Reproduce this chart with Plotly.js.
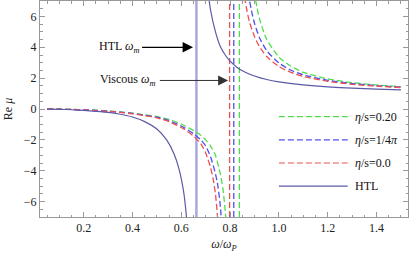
<!DOCTYPE html>
<html>
<head>
<meta charset="utf-8">
<script src="https://cdn.plot.ly/plotly-3.0.1.min.js"></script>
<style>html,body{margin:0;padding:0;background:#fff;}#plot{width:409px;height:253px;}</style>
</head>
<body>
<div id="plot"></div>
<script>
// HTL curve (two branches separated by null)
const htlX = [0.05,0.1,0.15,0.2,0.25,0.3,0.35,0.4,0.45,0.5,0.54,0.57,0.59,0.61,0.62,0.63,null,0.70,0.71,0.72,0.74,0.76,0.78,0.80,0.83,0.86,0.90,0.95,1.0,1.1,1.2,1.3,1.4,1.5];
const htlY = [-0.01,-0.02,-0.05,-0.09,-0.15,-0.22,-0.34,-0.52,-0.82,-1.3,-2.0,-2.9,-3.85,-5.4,-6.8,-9.0,null,9.4,7.6,6.4,5.0,4.05,3.5,3.1,2.68,2.4,2.14,1.91,1.76,1.56,1.43,1.35,1.29,1.24];
// eta/s = 0.0 (red)
const redX = [0.05,0.1,0.15,0.2,0.25,0.3,0.35,0.4,0.45,0.5,0.55,0.6,0.65,0.68,0.70,0.72,0.73,0.74,0.75,0.76,null,0.85,0.86,0.87,0.88,0.9,0.92,0.95,1.0,1.05,1.1,1.2,1.3,1.4,1.5];
const redY = [0,-0.01,-0.03,-0.06,-0.1,-0.15,-0.22,-0.31,-0.43,-0.57,-0.82,-1.2,-1.75,-2.25,-2.85,-3.8,-4.5,-5.5,-7.3,-10,null,8.4,7.2,6.3,5.6,4.7,4.05,3.4,2.75,2.37,2.11,1.79,1.6,1.48,1.39];
// eta/s = 1/4pi (blue)
const blueX = [0.05,0.1,0.15,0.2,0.25,0.3,0.35,0.4,0.45,0.5,0.55,0.6,0.65,0.68,0.70,0.72,0.74,0.75,0.76,0.77,null,0.87,0.88,0.89,0.9,0.92,0.95,1.0,1.05,1.1,1.2,1.3,1.4,1.5];
const blueY = [0,-0.01,-0.03,-0.05,-0.09,-0.14,-0.21,-0.29,-0.41,-0.53,-0.76,-1.1,-1.6,-2.0,-2.4,-3.1,-4.2,-5.0,-6.3,-8.6,null,8.1,7.0,6.2,5.55,4.64,3.78,2.98,2.51,2.22,1.86,1.65,1.51,1.42];
// eta/s = 0.20 (green)
const greenX = [0.05,0.1,0.15,0.2,0.25,0.3,0.35,0.4,0.45,0.5,0.55,0.6,0.65,0.68,0.70,0.72,0.74,0.76,0.77,0.78,0.79,null,0.89,0.9,0.91,0.92,0.95,1.0,1.05,1.1,1.2,1.3,1.4,1.5];
const greenY = [0,-0.01,-0.02,-0.05,-0.08,-0.13,-0.19,-0.27,-0.38,-0.49,-0.68,-0.97,-1.4,-1.7,-2.0,-2.4,-3.0,-4.2,-5.1,-6.6,-9.0,null,8.8,7.5,6.6,5.87,4.51,3.36,2.77,2.38,1.95,1.71,1.56,1.45];
// omega_m positions
const htlOmegaM = 0.662;
const viscOmegaM = [0.838, 0.815, 0.798]; // green, blue, red
const legendLabels = ['<i>η</i>/s=0.20', '<i>η</i>/s=1/4<i>π</i>', '<i>η</i>/s=0.0', 'HTL'];
const legendRowsY = [-0.5, -2.0, -3.5, -5.0];
const xTickVals = [0.2,0.4,0.6,0.8,1.0,1.2,1.4];

const cGreen = '#4fdc4f', cBlue = '#5050ee', cRed = '#ee5050', cHtl = '#5a5aa8', cHtlV = '#a8a8dc';
const dashStyle = '6px,3px';
const yLim = [-7, 7];

const traces = [
  {x:[htlOmegaM,htlOmegaM], y:yLim, mode:'lines', line:{color:cHtlV, width:2.5}},
  {x:[viscOmegaM[2],viscOmegaM[2]], y:yLim, mode:'lines', line:{color:cRed, width:1.3, dash:dashStyle}},
  {x:[viscOmegaM[1],viscOmegaM[1]], y:yLim, mode:'lines', line:{color:cBlue, width:1.3, dash:dashStyle}},
  {x:[viscOmegaM[0],viscOmegaM[0]], y:yLim, mode:'lines', line:{color:cGreen, width:1.3, dash:dashStyle}},
  {x:greenX, y:greenY, mode:'lines', line:{color:cGreen, width:1.3, dash:dashStyle, shape:'spline', smoothing:0.6}, connectgaps:false},
  {x:blueX, y:blueY, mode:'lines', line:{color:cBlue, width:1.3, dash:dashStyle, shape:'spline', smoothing:0.6}, connectgaps:false},
  {x:redX, y:redY, mode:'lines', line:{color:cRed, width:1.3, dash:dashStyle, shape:'spline', smoothing:0.6}, connectgaps:false},
  {x:htlX, y:htlY, mode:'lines', line:{color:cHtl, width:1.2, shape:'spline', smoothing:0.6}, connectgaps:false}
];

const legColors = [cGreen, cBlue, cRed, cHtl];
const shapes = legendRowsY.map((yy,i)=>({
  type:'line', xref:'x', yref:'y', x0:1.0, x1:1.282, y0:yy, y1:yy,
  line:{color:legColors[i], width:1.2, dash: i<3 ? dashStyle : 'solid'}
}));

const serif = '"Liberation Serif"';
const annotations = legendRowsY.map((yy,i)=>({
  xref:'x', yref:'y', x:1.305, y:yy, text:legendLabels[i], showarrow:false,
  xanchor:'left', yanchor:'middle', font:{family:serif, size:12, color:'#111'}
}));
annotations.push({
  xref:'x', yref:'y', x:0.648, y:4.0, axref:'x', ayref:'y', ax:0.343, ay:4.0,
  text:'HTL <i>ω</i><sub><i>m</i></sub>', showarrow:true, arrowhead:2, arrowsize:1.6, arrowwidth:1.3,
  arrowcolor:'#000', font:{family:serif, size:12, color:'#111'}, standoff:0, startstandoff:2
});
annotations.push({
  xref:'x', yref:'y', x:0.792, y:1.85, axref:'x', ayref:'y', ax:0.383, ay:1.85,
  text:'Viscous <i>ω</i><sub><i>m</i></sub>', showarrow:true, arrowhead:2, arrowsize:2.0, arrowwidth:1,
  arrowcolor:'#333', font:{family:serif, size:12, color:'#111'}, standoff:0, startstandoff:2
});

const axisCommon = {
  showline:true, linecolor:'#999', linewidth:1, mirror:'allticks',
  ticks:'inside', ticklen:5, tickcolor:'#999', tickwidth:1,
  showgrid:false, zeroline:false,
  tickfont:{family:serif, size:12, color:'#222'}
};

const layout = {
  width:409, height:253,
  margin:{l:40, r:1, t:1, b:36},
  paper_bgcolor:'#fff', plot_bgcolor:'#fff',
  font:{family:serif, size:12, color:'#222'},
  showlegend:false,
  xaxis: Object.assign({}, axisCommon, {
    range:[0.021, 1.529], tickvals:xTickVals, tickformat:'.1f',
    minor:{dtick:0.05, tick0:0, ticks:'inside', ticklen:2.5, tickcolor:'#999'},
    title:{text:'<i>ω</i>/<i>ω</i><sub><i>P</i></sub>', font:{family:serif, size:12, color:'#222'}, standoff:6}
  }),
  yaxis: Object.assign({}, axisCommon, {
    range:yLim, dtick:2, tick0:0,
    minor:{dtick:0.5, tick0:0, ticks:'inside', ticklen:2.5, tickcolor:'#999'},
    title:{text:'Re <i>μ</i>', font:{family:serif, size:12, color:'#222'}, standoff:8}
  }),
  shapes: shapes,
  annotations: annotations
};

Plotly.newPlot('plot', traces, layout, {staticPlot:true, displayModeBar:false});
</script>
</body>
</html>
